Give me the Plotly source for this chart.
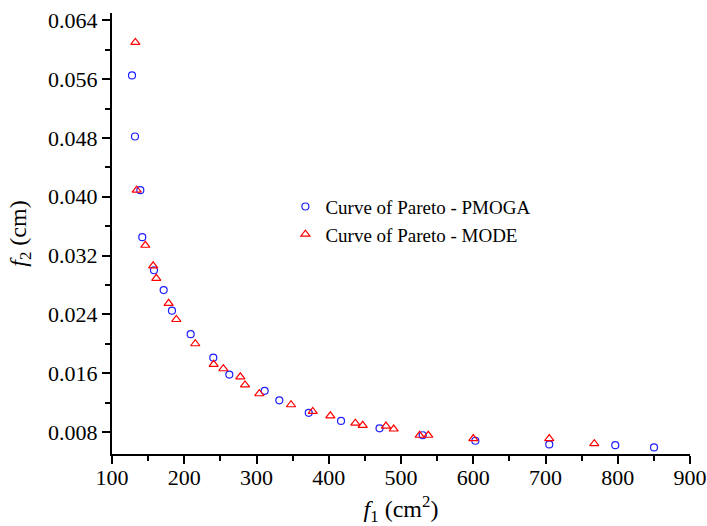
import plotly.graph_objects as go

# PMOGA Pareto front (f1 in cm^2, f2 in cm)
pmoga_f1 = [127.7, 131.8, 139.2, 141.9, 158.1, 171.5, 183.0, 208.9, 240.2, 262.4,
            311.3, 331.6, 372.3, 417.0, 470.3, 530.0, 602.9, 705.2, 796.6, 850.2]
pmoga_f2 = [0.0565, 0.0482, 0.0409, 0.0345, 0.0300, 0.0273, 0.0245, 0.0213, 0.0181, 0.0158,
            0.0136, 0.0123, 0.0106, 0.0095, 0.0085, 0.00755, 0.0068, 0.0063, 0.0062, 0.0059]

# MODE Pareto front
mode_f1 = [132.3, 134.2, 146.1, 157.0, 161.3, 178.4, 189.0, 215.3, 240.7, 254.1,
           277.6, 284.1, 303.9, 347.8, 377.8, 402.2, 436.8, 447.0, 479.2, 489.9,
           525.8, 537.8, 600.1, 705.2, 767.5]
mode_f2 = [0.0610, 0.0409, 0.0334, 0.0306, 0.0289, 0.0255, 0.0233, 0.0200, 0.0172, 0.0166,
           0.0155, 0.0144, 0.0132, 0.0117, 0.0108, 0.0102, 0.0092, 0.0089, 0.0088, 0.0084,
           0.00755, 0.00755, 0.0071, 0.0071, 0.0064]

x_ticks = [100, 200, 300, 400, 500, 600, 700, 800, 900]
y_ticks = [0.008, 0.016, 0.024, 0.032, 0.040, 0.048, 0.056, 0.064]

FONT = "Liberation Serif, Times New Roman, serif"

fig = go.Figure()
fig.add_trace(go.Scatter(
    x=pmoga_f1, y=pmoga_f2, mode="markers", name="Curve of Pareto - PMOGA",
    marker=dict(symbol="circle-open", size=7, color="#1f1fff", line=dict(width=1.2)),
))
fig.add_trace(go.Scatter(
    x=mode_f1, y=mode_f2, mode="markers", name="Curve of Pareto - MODE",
    marker=dict(symbol="triangle-up-open", size=8, color="#ff0000", line=dict(width=1.2)),
))

axis_common = dict(
    showgrid=False, zeroline=False, showline=True, linecolor="black", linewidth=2,
    ticks="outside", ticklen=8, tickwidth=2, tickcolor="black",
    tickfont=dict(family=FONT, size=22, color="black"), mirror=False,
    ticklabeloverflow="allow", automargin=False,
)

fig.update_layout(
    width=707, height=526,
    margin=dict(l=112, r=17, t=13, b=72),
    plot_bgcolor="white", paper_bgcolor="white",
    font=dict(family=FONT, color="black"),
    xaxis=dict(
        range=[100, 900], tickvals=x_ticks, ticktext=[str(v) for v in x_ticks],
        minor=dict(dtick=50, ticks="outside", ticklen=5, tickwidth=2, tickcolor="black"),
        ticklabelstandoff=-5,
        title=dict(text="<i>f</i><sub>1</sub> (cm<sup>2</sup>)",
                   font=dict(family=FONT, size=24, color="black")),
        **axis_common,
    ),
    yaxis=dict(
        range=[0.005, 0.065], tickvals=y_ticks, ticktext=[f"{v:.3f}" for v in y_ticks],
        minor=dict(dtick=0.004, tick0=0.0, ticks="outside", ticklen=5, tickwidth=2, tickcolor="black"),
        title=dict(text="<i>f</i><sub>2</sub> (cm)",
                   font=dict(family=FONT, size=24, color="black")),
        **axis_common,
    ),
    legend=dict(
        x=0.30, y=0.604, xanchor="left", yanchor="top",
        font=dict(family=FONT, size=19, color="black"),
        bgcolor="rgba(0,0,0,0)", borderwidth=0, itemwidth=30,
    ),
    showlegend=True,
)

# Remove the default page margin so the 707x526 figure fills the window exactly.
fig.write_html(
    "out.html",
    config={"displayModeBar": False},
    post_script="document.body.style.margin='0';document.body.style.overflow='hidden';",
)
